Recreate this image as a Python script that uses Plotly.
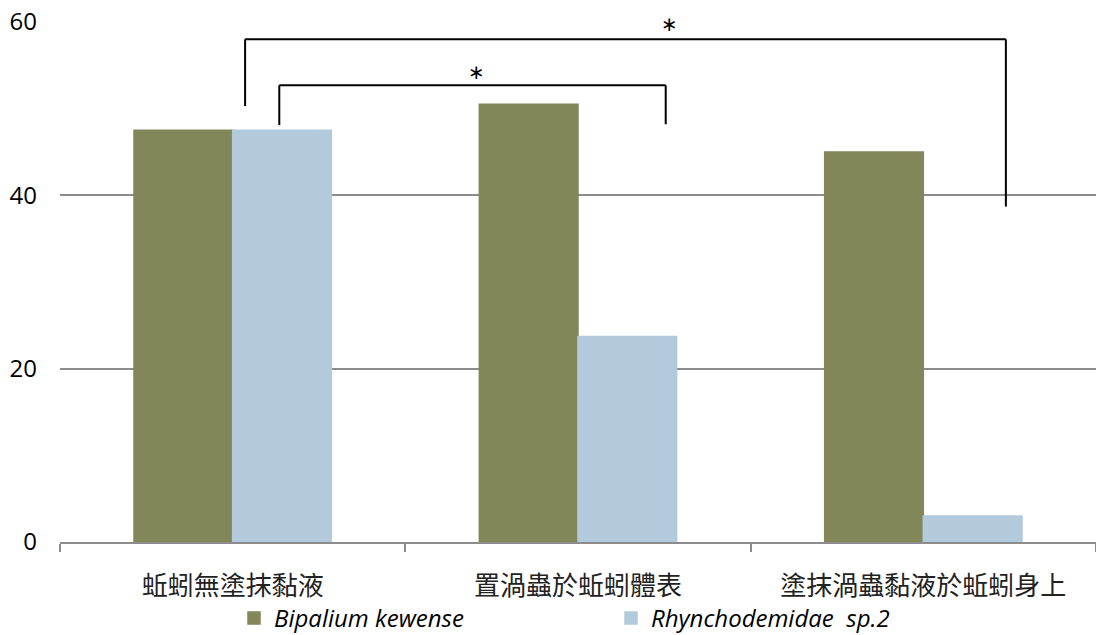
import plotly.graph_objects as go

# ---- data ----
categories = ["蚯蚓無塗抹黏液", "置渦蟲於蚯蚓體表", "塗抹渦蟲黏液於蚯蚓身上"]
series_names = ["Bipalium kewense", "Rhynchodemidae  sp.2"]
bipalium = [47.5, 50.5, 45.0]
rhyncho = [47.5, 23.7, 3.0]
y_ticks = [0, 20, 40, 60]

# significance comparisons
sig_left_idx = [0, 0]
sig_left_off = [0.036, 0.135]
sig_left_foot = [50.3, 48.1]
sig_right_idx = [2, 1]
sig_right_off = [0.239, 0.254]
sig_right_foot = [38.7, 48.2]
sig_top = [58.0, 52.7]
sig_star_x = [1.266, 0.707]
sig_star_y = [59.95, 54.5]

GREEN = "#82875A"
BLUE = "#B3CADD"
GRID = "#8C8C8C"

fig = go.Figure()
fig.add_trace(go.Bar(x=list(range(len(categories))), y=bipalium, name=series_names[0],
                     marker=dict(color=GREEN, line=dict(width=1.5, color=GREEN))))
fig.add_trace(go.Bar(x=list(range(len(categories))), y=rhyncho, name=series_names[1],
                     marker=dict(color=BLUE, line=dict(width=1.5, color=BLUE))))

shapes = []
for i in range(len(sig_top)):
    xl = sig_left_idx[i] + sig_left_off[i]
    xr = sig_right_idx[i] + sig_right_off[i]
    line = dict(color="black", width=2)
    shapes.append(dict(type="line", xref="x", yref="y", x0=xl, x1=xl,
                       y0=sig_left_foot[i], y1=sig_top[i], line=line))
    shapes.append(dict(type="line", xref="x", yref="y", x0=xl, x1=xr,
                       y0=sig_top[i], y1=sig_top[i], line=line))
    shapes.append(dict(type="line", xref="x", yref="y", x0=xr, x1=xr,
                       y0=sig_top[i], y1=sig_right_foot[i], line=line))

annotations = []
for i in range(len(sig_star_x)):
    annotations.append(dict(x=sig_star_x[i], y=sig_star_y[i], xref="x", yref="y",
                            text="∗", showarrow=False, yanchor="middle", yshift=-2,
                            font=dict(family="DejaVu Sans", size=20, color="black")))

fig.update_layout(
    width=1096, height=635,
    margin=dict(l=60, r=0, t=22, b=93, autoexpand=False),
    paper_bgcolor="white", plot_bgcolor="white",
    barmode="group", bargap=0.4286, bargroupgap=0,
    font=dict(family="Open Sans", color="black"),
    shapes=shapes, annotations=annotations,
    showlegend=True,
    legend=dict(orientation="h", x=0.2135, xanchor="left", xref="container",
                y=0.026, yref="container", yanchor="middle",
                bgcolor="rgba(0,0,0,0)",
                font=dict(family="Open Sans", size=24, color="black"),
                entrywidth=332, itemwidth=30, traceorder="normal"),
)
fig.update_xaxes(
    type="linear", range=[-0.5, 2.5], automargin=False,
    tickmode="array", tickvals=list(range(len(categories))), ticktext=categories,
    showgrid=False, zeroline=False,
    showline=True, linecolor=GRID, linewidth=2,
    ticks="", ticklabelstandoff=20,
    tickfont=dict(family="Noto Sans CJK TC", size=26, color="#222222"),
)
fig.update_xaxes(minor=dict(tickmode="array", tickvals=[-0.5, 0.5, 1.5, 2.5],
                            ticks="outside", ticklen=8, tickcolor=GRID, tickwidth=1.5))
fig.update_yaxes(
    range=[0, 60], tickvals=y_ticks, showline=False, zeroline=False, automargin=False,
    showgrid=True, gridcolor=GRID, gridwidth=1.5,
    tickfont=dict(family="Open Sans", size=24, color="black"),
    ticklabelstandoff=22,
)

for tr in fig.data:
    tr.name = "<i>" + tr.name + "</i>"

fig.write_html("out.html")
